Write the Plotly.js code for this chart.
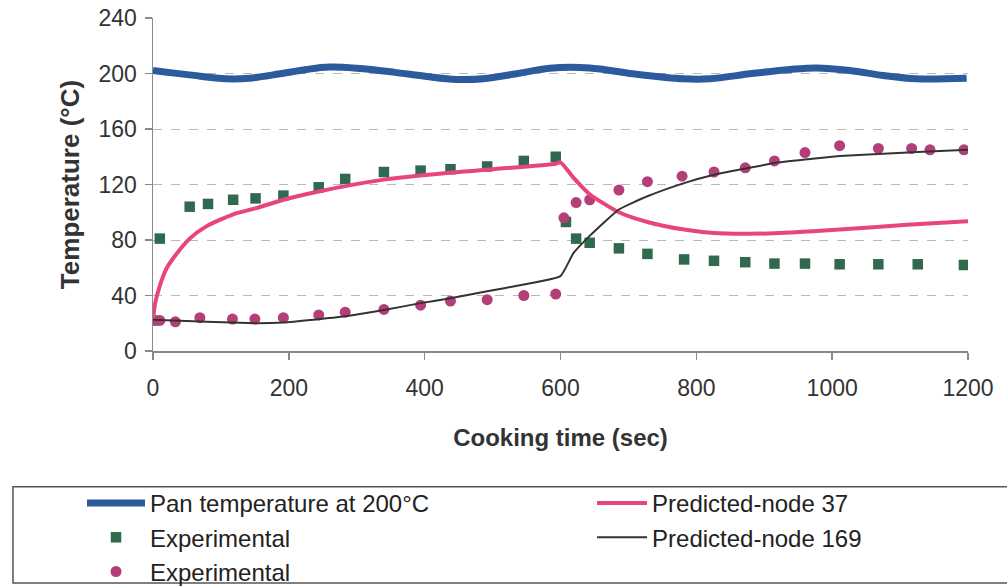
<!DOCTYPE html>
<html>
<head>
<meta charset="utf-8">
<script src="https://cdn.plot.ly/plotly-3.0.1.min.js"></script>
<style>html,body{margin:0;padding:0;background:#fff;}#chart{width:1007px;height:586px;}</style>
</head>
<body>
<div id="chart"></div>
<script>
// Pan temperature (blue thick line)
const panX = [0, 54, 108, 142, 187, 226, 260, 300, 354, 403, 447, 486, 535, 584, 643, 707, 781, 820, 879, 938, 977, 1026, 1075, 1124, 1198];
const panY = [202.2, 199, 196.2, 196.6, 199.8, 202.9, 204.6, 203.8, 201, 197.8, 195.7, 196.2, 199.8, 203.8, 204, 199.8, 196.2, 196.2, 199.8, 202.9, 204, 202.2, 198.6, 196.2, 196.6];

// Experimental (squares)
const sqX = [0, 10, 54, 81, 118, 151, 192, 244, 283, 340, 394, 438, 492, 546, 593, 608, 623, 643, 686, 728, 782, 826, 872, 915, 960, 1011, 1068, 1126, 1194];
const sqY = [22, 81, 104, 106, 109, 110, 112, 118, 124, 129, 130, 131, 133, 137, 140, 93, 81, 78, 74, 70, 66, 65, 64, 63, 63, 62.5, 62.5, 62.5, 62];

// Experimental (circles)
const ciX = [0, 10, 33, 69, 117, 150, 192, 244, 283, 340, 394, 438, 492, 546, 593, 605, 623, 643, 686, 728, 779, 826, 872, 915, 960, 1011, 1068, 1117, 1144, 1194];
const ciY = [22, 22, 21, 24, 23, 23, 24, 26, 28, 30, 33, 36, 37, 40, 41, 96, 107, 109, 116, 122, 126, 129, 132, 137, 143, 148, 146, 146, 145, 145];

// Predicted-node 37 (pink)
const n37X = [0, 3, 10, 20, 30, 54, 79, 118, 152, 192, 244, 340, 438, 593, 600, 619, 643, 686, 728, 782, 826, 872, 915, 1011, 1110, 1200];
const n37Y = [22, 34, 47, 59.5, 67, 81, 90, 98.5, 103, 109, 115, 123.5, 128.5, 135, 136, 125, 113, 100, 93, 87.5, 85, 84.5, 84.8, 87.5, 91, 93.5];

// Predicted-node 169 (black)
const n169X = [0, 79, 152, 192, 236, 283, 340, 394, 438, 492, 546, 600, 619, 643, 686, 728, 782, 826, 872, 915, 960, 1011, 1068, 1126, 1200];
const n169Y = [22.5, 21, 20, 20.5, 22.5, 25, 29.5, 34.5, 38, 43, 48, 54, 70.5, 83, 102, 111.5, 121, 127, 131.5, 135.5, 138, 140.5, 142, 143.5, 145];

const xTicks = [0, 200, 400, 600, 800, 1000, 1200];
const yTicks = [0, 40, 80, 120, 160, 200, 240];

const FONT = 'Liberation Sans, Arial, sans-serif';
const TXT = '#333333';

const traces = [
  {x: panX, y: panY, name: 'Pan temperature at 200°C', mode: 'lines', line: {color: '#2C5A9C', width: 7, shape: 'spline'}, legend: 'legend', legendgroup: 'a', legendrank: 1},
  {x: sqX, y: sqY, name: 'Experimental', mode: 'markers', marker: {symbol: 'square', size: 10.5, color: '#2F6A4F'}, legend: 'legend', legendgroup: 'b', legendrank: 2},
  {x: ciX, y: ciY, name: 'Experimental', mode: 'markers', marker: {symbol: 'circle', size: 11, color: '#B43F78'}, legend: 'legend', legendgroup: 'c', legendrank: 3},
  {x: n37X, y: n37Y, name: 'Predicted-node 37', mode: 'lines', line: {color: '#E8457E', width: 4, shape: 'spline', smoothing: 0.6}, legend: 'legend2', legendgroup: 'd', legendrank: 1},
  {x: n169X, y: n169Y, name: 'Predicted-node 169', mode: 'lines', line: {color: '#333333', width: 2, shape: 'spline', smoothing: 0.4}, legend: 'legend2', legendgroup: 'e', legendrank: 2}
];

const legendCommon = {
  orientation: 'v', xanchor: 'left', yanchor: 'top',
  bgcolor: 'rgba(0,0,0,0)', borderwidth: 0,
  font: {family: FONT, size: 24, color: '#222'}, tracegroupgap: 0, traceorder: 'normal'
};

const layout = {
  width: 1007, height: 586,
  margin: {l: 153, r: 39, t: 18, b: 235, autoexpand: false},
  paper_bgcolor: '#ffffff', plot_bgcolor: '#ffffff',
  font: {family: FONT, color: TXT},
  showlegend: true,
  xaxis: {
    range: [0, 1200], tickvals: xTicks, ticktext: xTicks.map(String),
    showgrid: false, zeroline: false, showline: true, linecolor: '#8a8a8a', linewidth: 1.5,
    ticks: 'outside', ticklen: 7, tickcolor: '#8a8a8a', tickwidth: 1.5,
    tickfont: {family: FONT, size: 23, color: TXT}, ticklabelstandoff: 9,
    title: {text: '<b>Cooking time (sec)</b>', font: {family: FONT, size: 24, color: TXT}, standoff: 29},
    fixedrange: true
  },
  yaxis: {
    range: [0, 240], tickvals: yTicks, ticktext: yTicks.map(String),
    showgrid: true, gridcolor: '#b8b8b8', griddash: 'dash', gridwidth: 1,
    zeroline: false, showline: true, linecolor: '#8a8a8a', linewidth: 1.5,
    ticks: 'outside', ticklen: 7, tickcolor: '#8a8a8a', tickwidth: 1.5,
    tickfont: {family: FONT, size: 23, color: TXT}, ticklabelstandoff: 3,
    title: {text: '<b>Temperature (°C)</b>', font: {family: FONT, size: 26, color: TXT}, standoff: 11},
    fixedrange: true
  },
  legend: Object.assign({}, legendCommon, {x: -0.0871, y: -0.3904, itemwidth: 58}),
  legend2: Object.assign({}, legendCommon, {x: 0.5387, y: -0.3904, itemwidth: 50}),
  shapes: [
    {type: 'rect', xref: 'paper', yref: 'paper', x0: -0.1718, x1: 1.06, y0: -0.697, y1: -0.408,
     line: {color: '#555555', width: 1.5}, fillcolor: 'rgba(0,0,0,0)', layer: 'below'}
  ]
};

Plotly.newPlot('chart', traces, layout, {displayModeBar: false, staticPlot: true});
</script>
</body>
</html>
